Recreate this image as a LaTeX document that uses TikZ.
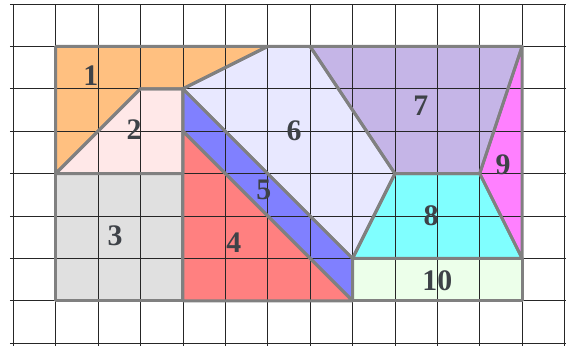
\documentclass[tikz,border=0pt]{standalone}
\usepackage{fontspec}
\setmainfont{Liberation Serif}
\definecolor{cOrange}{RGB}{255,192,128}
\definecolor{cPink}{RGB}{255,232,232}
\definecolor{cGray}{RGB}{224,224,224}
\definecolor{cRed}{RGB}{255,128,128}
\definecolor{cBlue}{RGB}{128,128,255}
\definecolor{cLav}{RGB}{232,232,255}
\definecolor{cPurple}{RGB}{197,181,231}
\definecolor{cMag}{RGB}{255,128,255}
\definecolor{cCyan}{RGB}{128,255,255}
\definecolor{cGreen}{RGB}{236,255,234}
\definecolor{cEdge}{RGB}{128,128,128}
\definecolor{cText}{RGB}{62,66,72}
\tikzset{
  piece/.style={draw=cEdge, line width=2pt, line join=round},
  gridline/.style={black!85, line width=0.55pt},
  lbl/.style={font=\fontsize{20}{24}\selectfont\bfseries, text=cText, inner sep=0pt}
}
\begin{document}
\begin{tikzpicture}
\useasboundingbox (-0.314,-0.066) rectangle (13.035,8.094);
% fills
\fill[cOrange] (1,7) -- (6,7) -- (4,6) -- (3,6) -- (1,4) -- cycle;
\fill[cPink] (1,4) -- (3,6) -- (4,6) -- (4,4) -- cycle;
\fill[cGray] (1,1) rectangle (4,4);
\fill[cRed] (4,5) -- (4,1) -- (8,1) -- cycle;
\fill[cBlue] (4,6) -- (4,5) -- (8,1) -- (8,2) -- cycle;
\fill[cLav] (4,6) -- (6,7) -- (7,7) -- (9,4) -- (8,2) -- cycle;
\fill[cPurple] (7,7) -- (12,7) -- (11,4) -- (9,4) -- cycle;
\fill[cMag] (12,7) -- (12,2) -- (11,4) -- cycle;
\fill[cCyan] (9,4) -- (11,4) -- (12,2) -- (8,2) -- cycle;
\fill[cGreen] (8,1) rectangle (12,2);
% grid
\foreach \i in {0,...,13} \draw[gridline] (\i,-0.07) -- (\i,8);
\foreach \j in {0,...,8} \draw[gridline] (-0.08,\j) -- (13.04,\j);
% outlines
\draw[piece] (1,7) -- (6,7) -- (4,6) -- (3,6) -- (1,4) -- cycle;
\draw[piece] (1,4) -- (3,6) -- (4,6) -- (4,4) -- cycle;
\draw[piece] (1,1) rectangle (4,4);
\draw[piece] (4,5) -- (4,1) -- (8,1) -- cycle;
\draw[piece] (4,6) -- (4,5) -- (8,1) -- (8,2) -- cycle;
\draw[piece] (4,6) -- (6,7) -- (7,7) -- (9,4) -- (8,2) -- cycle;
\draw[piece] (7,7) -- (12,7) -- (11,4) -- (9,4) -- cycle;
\draw[piece] (12,7) -- (12,2) -- (11,4) -- cycle;
\draw[piece] (9,4) -- (11,4) -- (12,2) -- (8,2) -- cycle;
\draw[piece] (8,1) rectangle (12,2);
% labels
\node[lbl] (l1) at (1.83,6.3) {1};
\node[lbl] (l2) at (2.85,5.03) {2};
\node[lbl] (l3) at (2.4,2.53) {3};
\node[lbl] (l4) at (5.2,2.36) {4};
\node[lbl] (l5) at (5.91,3.61) {5};
\node[lbl] (l6) at (6.62,5.0) {6};
\node[lbl] (l7) at (9.61,5.59) {7};
\node[lbl] (l8) at (9.85,3.0) {8};
\node[lbl] (l9) at (11.55,4.2) {9};
\node[lbl] (l10) at (10.0,1.47) {10};
\end{tikzpicture}
\end{document}
